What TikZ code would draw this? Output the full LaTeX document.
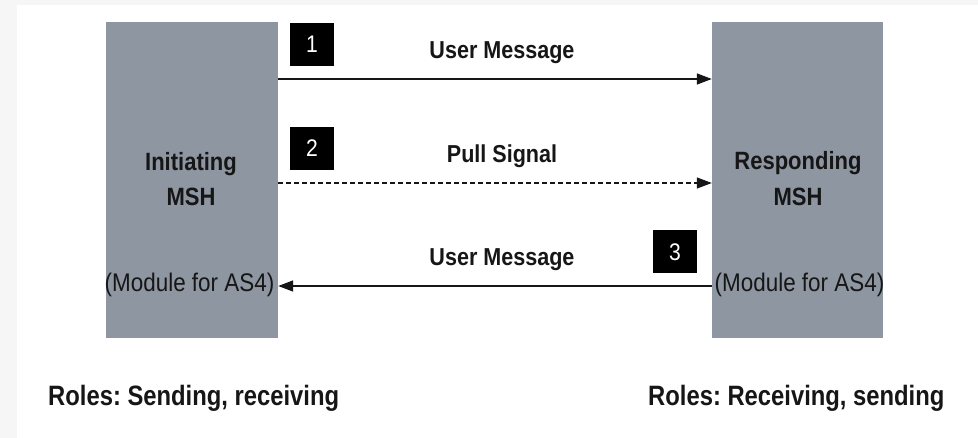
\documentclass[tikz,border=0pt]{standalone}
\usepackage{fontspec}
\setmainfont{Liberation Sans}
\newfontfamily\narrowfont[FakeStretch=0.88]{Liberation Sans}
\newfontfamily\rolesfont[FakeStretch=0.85]{Liberation Sans}
\usetikzlibrary{arrows.meta}
\definecolor{boxgray}{HTML}{8E96A2}
\definecolor{bggray}{HTML}{F6F6F6}
\definecolor{ink}{HTML}{161616}
\frenchspacing
\tikzset{
  msh/.style={draw=none, fill=boxgray, minimum width=172pt, minimum height=316pt, inner sep=0pt},
  badge/.style={fill=black, text=white, minimum width=44pt, minimum height=43pt, inner sep=0pt, font=\fontsize{24}{24}\narrowfont},
  msgarrow/.style={line width=1.5pt, draw=ink, -{Triangle[length=15pt,width=11pt]}},
  lbl/.style={anchor=base, inner sep=0pt, text=ink, font=\fontsize{24.5}{24.5}\narrowfont\bfseries},
  boxtxt/.style={anchor=base, inner sep=0pt, text=ink, font=\fontsize{25}{25}\narrowfont\bfseries},
  modtxt/.style={anchor=base, inner sep=0pt, text=ink, font=\fontsize{25.5}{25.5}\narrowfont},
  roletxt/.style={anchor=base west, inner sep=0pt, text=ink, font=\fontsize{28}{28}\rolesfont\bfseries}
}
\begin{document}
\begin{tikzpicture}[x=1pt, y=-1pt]
  \useasboundingbox (0,0) rectangle (978,438);
  \fill[bggray] (0,0) rectangle (978,438);
  \fill[white] (17,5) rectangle (978,438);
  % boxes
  \node[msh] (L) at (192,180) {};
  \node[msh, minimum width=171pt] (R) at (797.5,180) {};
  % box texts
  \node[boxtxt] (Lt1) at (191,171) {Initiating};
  \node[boxtxt] (Lt2) at (191,206) {MSH};
  \node[modtxt] (Lt3) at (189.5,292) {(Module for AS4)};
  \node[boxtxt] (Rt1) at (798,170) {Responding};
  \node[boxtxt] (Rt2) at (798,206) {MSH};
  \node[modtxt] (Rt3) at (799.5,292) {(Module for AS4)};
  % arrow levels
  \coordinate (y1) at (0,79);
  \coordinate (y2) at (0,183);
  \coordinate (y3) at (0,286);
  \draw[msgarrow] (L.east |- y1) -- (R.west |- y1);
  \draw[msgarrow, line width=1.2pt, dash pattern=on 5pt off 3pt] (L.east |- y2) -- (R.west |- y2);
  \draw[msgarrow] (R.west |- y3) -- (L.east |- y3);
  % labels
  \node[lbl] (m1) at (502,59) {User Message};
  \node[lbl] (m2) at (502,163) {Pull Signal};
  \node[lbl] (m3) at (502,266) {User Message};
  % badges
  \node[badge] (b1) at (312,44.5) {1};
  \node[badge] (b2) at (312,148.5) {2};
  \node[badge] (b3) at (675,252) {3};
  % roles
  \node[roletxt] (r1) at (48,406) {Roles: Sending, receiving};
  \node[roletxt] (r2) at (648,406) {Roles: Receiving, sending};
\end{tikzpicture}
\end{document}
